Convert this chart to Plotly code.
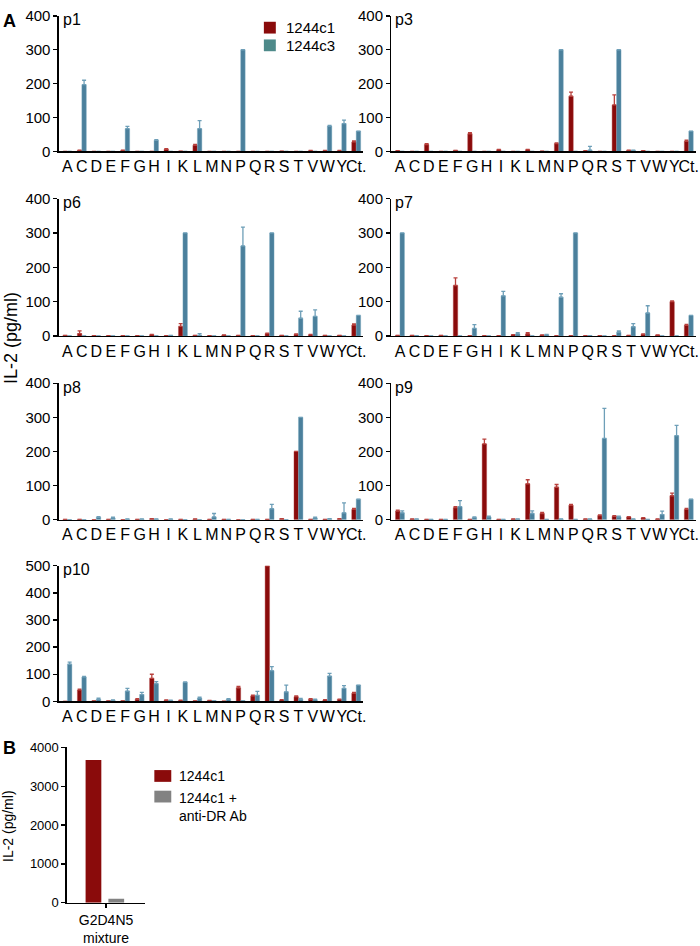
import plotly.graph_objects as go

W, H = 700, 946
FONT = "Arial, 'Liberation Sans', sans-serif"

categories = ["A", "C", "D", "E", "F", "G", "H", "I", "K", "L", "M",
              "N", "P", "Q", "R", "S", "T", "V", "W", "Y", "Ct."]

# ---- Panel A data (IL-2 pg/ml), order follows categories ----
p1_c1 = [0, 3, 0, 0, 3, 0, 0, 6, 1, 18, 0, 0, 0, 0, 0, 1, 0, 2, 2, 2, 28]
p1_c1_err = [0, 1, 0, 0, 1, 0, 0, 2, 0, 3, 0, 0, 0, 0, 0, 0, 0, 1, 1, 1, 3]
p1_c3 = [0, 197, 0, 0, 67, 0, 33, 0, 0, 67, 0, 0, 300, 0, 0, 0, 0, 0, 75, 82, 60]
p1_c3_err = [0, 13, 0, 0, 7, 0, 2, 0, 0, 24, 0, 0, 0, 0, 0, 0, 0, 0, 2, 10, 0]

p3_c1 = [2, 0, 20, 0, 3, 52, 0, 5, 0, 5, 1, 23, 163, 2, 0, 137, 3, 2, 0, 0, 30]
p3_c1_err = [0, 0, 3, 0, 0, 3, 0, 1, 0, 1, 0, 2, 12, 0, 0, 30, 1, 0, 0, 0, 3]
p3_c3 = [0, 0, 0, 0, 0, 0, 0, 0, 0, 0, 0, 300, 0, 4, 0, 300, 3, 0, 0, 0, 60]
p3_c3_err = [0, 0, 0, 0, 0, 0, 0, 0, 0, 0, 0, 0, 0, 11, 0, 0, 1, 0, 0, 0, 0]

p6_c1 = [2, 7, 1, 1, 1, 1, 4, 1, 28, 2, 1, 3, 2, 1, 7, 2, 5, 4, 2, 2, 32]
p6_c1_err = [0, 8, 0, 0, 0, 0, 1, 0, 8, 0, 0, 0, 0, 0, 1, 0, 1, 1, 0, 0, 3]
p6_c3 = [0, 0, 0, 0, 0, 0, 0, 2, 300, 2, 0, 0, 262, 0, 300, 0, 52, 57, 0, 0, 60]
p6_c3_err = [0, 0, 0, 0, 0, 0, 0, 0, 0, 5, 0, 0, 55, 0, 0, 0, 20, 19, 0, 0, 0]

p7_c1 = [2, 2, 1, 2, 147, 1, 1, 1, 4, 6, 3, 1, 1, 1, 1, 1, 2, 5, 3, 100, 31]
p7_c1_err = [0, 0, 0, 0, 22, 0, 0, 0, 0, 4, 0, 0, 0, 0, 0, 0, 0, 1, 0, 2, 3]
p7_c3 = [300, 1, 0, 0, 0, 22, 0, 117, 6, 0, 4, 113, 300, 1, 0, 11, 27, 67, 0, 0, 60]
p7_c3_err = [0, 0, 0, 0, 0, 11, 0, 13, 4, 0, 1, 10, 0, 0, 0, 4, 9, 21, 0, 0, 0]

p8_c1 = [1, 1, 0, 1, 0, 1, 3, 0, 1, 2, 1, 1, 0, 1, 1, 3, 200, 1, 1, 3, 30]
p8_c1_err = [0, 0, 0, 0, 0, 0, 0, 0, 0, 0, 0, 0, 0, 0, 0, 0, 0, 0, 0, 0, 3]
p8_c3 = [0, 0, 7, 5, 2, 2, 2, 2, 0, 0, 8, 1, 0, 1, 32, 0, 300, 5, 3, 20, 60]
p8_c3_err = [0, 0, 2, 2, 0, 0, 0, 0, 0, 0, 10, 0, 0, 0, 13, 0, 0, 2, 0, 29, 0]

p9_c1 = [25, 2, 1, 1, 35, 1, 222, 1, 2, 105, 18, 95, 42, 2, 12, 10, 8, 5, 2, 70, 30]
p9_c1_err = [3, 0, 0, 0, 3, 0, 14, 0, 0, 12, 3, 8, 3, 0, 2, 2, 1, 1, 0, 8, 3]
p9_c3 = [20, 2, 1, 1, 38, 6, 8, 1, 2, 18, 1, 2, 1, 2, 238, 8, 2, 1, 15, 246, 60]
p9_c3_err = [6, 0, 0, 0, 18, 2, 2, 0, 0, 8, 0, 0, 0, 0, 88, 2, 0, 0, 10, 30, 0]

p10_c1 = [0, 42, 2, 2, 2, 8, 85, 4, 3, 2, 3, 1, 50, 20, 500, 5, 17, 8, 5, 7, 30]
p10_c1_err = [0, 3, 0, 0, 0, 2, 15, 1, 1, 0, 0, 0, 5, 3, 0, 1, 3, 2, 1, 1, 3]
p10_c3 = [137, 90, 8, 4, 38, 25, 65, 3, 70, 12, 2, 8, 2, 22, 113, 35, 8, 6, 93, 48, 60]
p10_c3_err = [8, 2, 4, 1, 10, 8, 8, 1, 2, 3, 0, 2, 0, 15, 15, 25, 3, 2, 10, 10, 0]

# ---- Panel B data ----
b_categories = ["G2D4N5<br>mixture"]
b_c1 = [3680]
b_c1_ab = [100]

RED = "#8a0b0b"
RED_ERR = "#b8403c"
TEAL = "#4b809c"
TEAL_ERR = "#6e9fb8"
GRAY = "#828282"
TEAL_LEG = "#4e8a8a"


def px_x(x):
    return x / W


def px_y(y):
    return 1 - y / H


fig = go.Figure()
layout = dict(
    width=W, height=H, margin=dict(l=0, r=0, t=0, b=0),
    paper_bgcolor="white", plot_bgcolor="white",
    showlegend=False, barmode="overlay",
    font=dict(family=FONT, color="black"),
)

LEFT = (59, 365)
RIGHT = (393, 699)
panels = [
    ("p1", p1_c1, p1_c1_err, p1_c3, p1_c3_err, LEFT, (7, 145), 400),
    ("p3", p3_c1, p3_c1_err, p3_c3, p3_c3_err, RIGHT, (7, 145), 400),
    ("p6", p6_c1, p6_c1_err, p6_c3, p6_c3_err, LEFT, (193, 333), 400),
    ("p7", p7_c1, p7_c1_err, p7_c3, p7_c3_err, RIGHT, (193, 333), 400),
    ("p8", p8_c1, p8_c1_err, p8_c3, p8_c3_err, LEFT, (381, 520), 400),
    ("p9", p9_c1, p9_c1_err, p9_c3, p9_c3_err, RIGHT, (381, 520), 400),
    ("p10", p10_c1, p10_c1_err, p10_c3, p10_c3_err, LEFT, (567, 705), 500),
]

annotations = []
shapes = []

for i, (name, c1, c1e, c3, c3e, xd, yd, ymax) in enumerate(panels):
    n = i + 1
    xa = "x" if n == 1 else f"x{n}"
    ya = "y" if n == 1 else f"y{n}"
    fig.add_trace(go.Bar(
        x=categories, y=c1, xaxis=xa, yaxis=ya,
        width=0.31, offset=-0.31,
        marker=dict(color=RED, line=dict(color="#b44a48", width=0.4)),
        error_y=dict(type="data", array=c1e, arrayminus=[0] * len(c1e),
                     symmetric=False, color=RED_ERR, thickness=1.3, width=2),
    ))
    fig.add_trace(go.Bar(
        x=categories, y=c3, xaxis=xa, yaxis=ya,
        width=0.31, offset=0.0,
        marker=dict(color=TEAL, line=dict(color="#7aa8c0", width=0.4)),
        error_y=dict(type="data", array=c3e, arrayminus=[0] * len(c3e),
                     symmetric=False, color=TEAL_ERR, thickness=1.3, width=2),
    ))
    kx = "xaxis" if n == 1 else f"xaxis{n}"
    ky = "yaxis" if n == 1 else f"yaxis{n}"
    layout[kx] = dict(
        domain=[px_x(xd[0]), px_x(xd[1])], anchor=ya,
        type="category", range=[-0.6, 20.5],
        tickmode="array", tickvals=categories, ticktext=categories,
        showline=True, linecolor="black", linewidth=1.3,
        ticks="", showgrid=False, zeroline=False,
        tickfont=dict(size=16, family=FONT), tickangle=0,
        fixedrange=True,
    )
    layout[ky] = dict(
        domain=[px_y(yd[1]), px_y(yd[0])], anchor=xa,
        range=[0, ymax], tickvals=list(range(0, ymax + 1, 100)),
        showline=True, linecolor="black", linewidth=1.3,
        ticks="outside", ticklen=4, tickwidth=1.3, tickcolor="black",
        showgrid=False, zeroline=False,
        tickfont=dict(size=15, family=FONT),
        fixedrange=True,
    )
    annotations.append(dict(
        text=name, x=px_x(xd[0] + 2), y=px_y(yd[0] + 4),
        xref="paper", yref="paper", xanchor="left", yanchor="middle",
        showarrow=False, font=dict(size=16, family=FONT),
    ))

# ---- Panel B ----
nb = len(panels) + 1
xb, yb = f"x{nb}", f"y{nb}"
fig.add_trace(go.Bar(
    x=b_categories, y=b_c1, xaxis=xb, yaxis=yb,
    width=0.2, offset=-0.26, marker=dict(color=RED, line=dict(width=0)),
))
fig.add_trace(go.Bar(
    x=b_categories, y=b_c1_ab, xaxis=xb, yaxis=yb,
    width=0.2, offset=0.03, marker=dict(color=GRAY, line=dict(width=0)),
))
layout[f"xaxis{nb}"] = dict(
    domain=[px_x(67), px_x(146)], anchor=yb, type="category",
    range=[-0.5, 0.5], showline=True, linecolor="black", linewidth=1.3,
    ticks="outside", ticklen=4, tickwidth=1.3, tickcolor="black",
    showgrid=False, zeroline=False, tickfont=dict(size=14, family=FONT),
    fixedrange=True,
)
layout[f"yaxis{nb}"] = dict(
    domain=[px_y(910), px_y(752)], anchor=xb, range=[0, 4000],
    tickvals=[0, 1000, 2000, 3000, 4000],
    showline=True, linecolor="black", linewidth=1.3,
    ticks="outside", ticklen=4, tickwidth=1.3, tickcolor="black",
    showgrid=False, zeroline=False, tickfont=dict(size=13, family=FONT),
    fixedrange=True,
)

# Panel letters and axis titles
annotations += [
    dict(text="<b>A</b>", x=px_x(1), y=px_y(12), xanchor="left", yanchor="middle",
         font=dict(size=18, family=FONT)),
    dict(text="<b>B</b>", x=px_x(1), y=px_y(753), xanchor="left", yanchor="middle",
         font=dict(size=18, family=FONT)),
    dict(text="IL-2 (pg/ml)", x=px_x(11), y=px_y(335), textangle=-90,
         xanchor="center", yanchor="middle", font=dict(size=18, family=FONT)),
    dict(text="IL-2 (pg/ml)", x=px_x(8), y=px_y(832), textangle=-90,
         xanchor="center", yanchor="middle", font=dict(size=14, family=FONT)),
    # Legend A
    dict(text="1244c1", x=px_x(285), y=px_y(19), xanchor="left", yanchor="middle",
         font=dict(size=15, family=FONT)),
    dict(text="1244c3", x=px_x(285), y=px_y(37), xanchor="left", yanchor="middle",
         font=dict(size=15, family=FONT)),
    # Legend B
    dict(text="1244c1", x=px_x(178), y=px_y(781), xanchor="left", yanchor="middle",
         font=dict(size=14, family=FONT)),
    dict(text="1244c1 +<br>anti-DR Ab", x=px_x(178), y=px_y(793), xanchor="left",
         yanchor="top", align="left", font=dict(size=14, family=FONT)),
]
for a in annotations:
    a.setdefault("xref", "paper")
    a.setdefault("yref", "paper")
    a.setdefault("showarrow", False)


def rect(x0, y0, x1, y1, color):
    return dict(type="rect", xref="paper", yref="paper",
                x0=px_x(x0), x1=px_x(x1), y0=px_y(y1), y1=px_y(y0),
                fillcolor=color, line=dict(width=0))


shapes += [
    rect(265, 13, 277, 25, RED),
    rect(265, 31, 277, 43, TEAL_LEG),
    rect(155, 775, 172, 787, RED),
    rect(155, 796, 172, 808, GRAY),
]

layout["annotations"] = annotations
layout["shapes"] = shapes
fig.update_layout(**layout)
fig.write_html(
    "out.html",
    config=dict(displayModeBar=False, staticPlot=True),
    post_script="document.body.style.margin='0';document.body.style.overflow='hidden';",
)
